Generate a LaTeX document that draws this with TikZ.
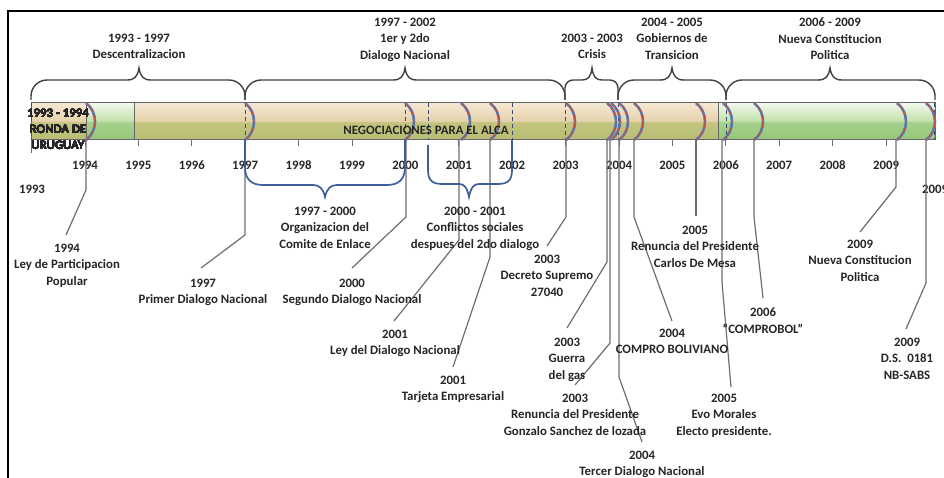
\documentclass[tikz,border=0pt]{standalone}
\usepackage{fontspec}
\setmainfont{Carlito}
\definecolor{txt}{HTML}{262626}
\definecolor{evcol}{HTML}{6E6E6E}
\definecolor{brk}{HTML}{404040}
\definecolor{bluebr}{HTML}{3F5E9C}
\definecolor{arcred}{HTML}{C0504D}
\definecolor{arcblue}{HTML}{4F81BD}
\definecolor{dashcol}{HTML}{3A4A70}
\definecolor{tanT}{HTML}{F5E8D2}
\definecolor{tanM}{HTML}{E6D2AC}
\definecolor{tanL}{HTML}{C3C47F}
\definecolor{tanB}{HTML}{B8BE74}
\definecolor{grT}{HTML}{F1F8EC}
\definecolor{grM}{HTML}{C2E2AC}
\definecolor{grL}{HTML}{A5D18C}
\definecolor{grB}{HTML}{94C77A}
\definecolor{orangeln}{HTML}{E39A50}
\pgfdeclareverticalshading{tanbar}{100bp}{color(0bp)=(tanB); color(25bp)=(tanB); color(49bp)=(tanL); color(51bp)=(tanM); color(75bp)=(tanT); color(100bp)=(tanT)}
\pgfdeclareverticalshading{greenbar}{100bp}{color(0bp)=(grB); color(25bp)=(grB); color(49bp)=(grL); color(51bp)=(grM); color(75bp)=(grT); color(100bp)=(grT)}
\tikzset{
  lbl/.style={font=\fontsize{12.8}{16.3}\selectfont\bfseries, text=txt, align=center, inner sep=0pt},
  lbln/.style={lbl, anchor=north},
  evl/.style={draw=evcol, line width=1.2pt},
  topbr/.style={draw=brk, line width=1.4pt},
  bluebrace/.style={draw=bluebr, line width=1.7pt},
  dashln/.style={draw=dashcol, line width=1pt, dash pattern=on 4pt off 3pt},
  tickln/.style={draw=evcol, line width=1pt},
  divln/.style={draw=gray!80!black, line width=1pt}
}
\newcommand{\tbrace}[5]{%
  \draw[topbr] (#1,100) -- (#1,{80+#4}) .. controls (#1,{80+0.45*#4}) and ({#1+0.45*#4},80) .. ({#1+#4},80)
   -- ({#2-#5},80) .. controls ({#2-0.4*#5},80) and ({#2-0.12*#5},77) .. (#2,68)
   .. controls ({#2+0.12*#5},77) and ({#2+0.4*#5},80) .. ({#2+#5},80)
   -- ({#3-#4},80) .. controls ({#3-0.45*#4},80) and (#3,{80+0.45*#4}) .. (#3,{80+#4}) -- (#3,100);}
\newcommand{\evarc}[1]{%
  \draw[arcblue, line width=2.6pt] (#1,103) .. controls ({#1+12},112) and ({#1+12},131) .. (#1,140);
  \draw[arcred, line width=1.1pt] (#1,103) .. controls ({#1+12},112) and ({#1+12},131) .. (#1,140);}
\newcommand{\evline}[6]{%
  \coordinate (#1a) at (#2,140);
  \coordinate (#1b) at (#2,#3);
  \coordinate (#1c) at (#4,#5);
  \draw[evl] (#1a) -- (#1b) -- (#1c);}
\begin{document}
\begin{tikzpicture}[x=1pt,y=-1pt]
\useasboundingbox (0,0) rectangle (944,478);
\fill[white] (0,0) rectangle (944,478);
% frame
\draw[black, line width=2pt] (944,11) -- (8,11) -- (8,478);

% band
\shade[shading=tanbar] (31,103) rectangle (86,140);
\shade[shading=greenbar] (86,103) rectangle (134,140);
\shade[shading=tanbar] (134,103) rectangle (718,140);
\shade[shading=greenbar] (718,103) rectangle (935,140);
\draw[orangeln, line width=1pt] (31,139.5) -- (718,139.5);
\draw[divln] (31,103) rectangle (935,140);
\foreach \x in {86,134,718} \draw[divln] (\x,103) -- (\x,140);
\foreach \x in {31,245,405,428,512,565,618,726,934} \draw[dashln] (\x,103) -- (\x,140);
\foreach \x in {86,245,405,461,490,566,607,611,619,634,696,723,754,897,926} \evarc{\x}
\node[lbl] (ronda) at (58,129.5) {1993 - 1994\\RONDA DE\\URUGUAY};
\node[lbl] (alca) at (426,130) {NEGOCIACIONES PARA EL ALCA};

% ticks and years
\draw[tickln] (31,140) -- (31,153);
\foreach \i in {0,...,15} {
  \draw[tickln] ({85+53.4*\i},140) -- ({85+53.4*\i},146);
  \pgfmathtruncatemacro\yy{1994+\i}
  \node[lbl] (yr\i) at ({85+53.4*\i},165) {\yy};
}
\node[lbl] (yr1993) at (32,189) {1993};
\node[lbl] (yr2009b) at (935,189) {2009};

% top braces
\tbrace{31}{139}{245}{16}{12}
\tbrace{245}{405}{565}{16}{12}
\tbrace{565}{592}{618}{8}{10}
\tbrace{618}{672}{726}{16}{12}
\tbrace{726}{830}{935}{16}{12}
\node[lbln] (t1) at (139,34) {1993 - 1997\\Descentralizacion};
\node[lbln] (t2) at (405,18) {1997 - 2002\\1er y 2do\\Dialogo Nacional};
\node[lbln] (t3) at (592,34) {2003 - 2003\\Crisis};
\node[lbln] (t4) at (672,18) {2004 - 2005\\Gobiernos de\\Transicion};
\node[lbln] (t5) at (830,18) {2006 - 2009\\Nueva Constitucion\\Politica};

% event lines
\evline{e1}{86}{190}{66}{235}{}
\evline{e2}{245}{235}{201}{268}{}
\evline{e3}{406}{217}{352}{268}{}
\evline{e4}{459}{240}{394}{321}{}
\evline{e5}{490}{257}{453}{367}{}
\evline{e6}{566}{217}{547}{246}{}
\evline{e7}{607}{262}{567}{328}{}
\evline{e8}{610}{343}{575}{385}{}
\evline{e9}{619}{377}{642}{442}{}
\evline{e10}{634}{217}{672}{321}{}
\evline{e11}{696}{216}{696}{216}{}
\evline{e12}{722}{282}{731}{387}{}
\evline{e13}{754}{217}{763}{298}{}
\evline{e14}{896}{187}{860}{232}{}
\evline{e15}{926}{283}{906}{329}{}

% blue braces
\coordinate (ba1) at (245,140); \coordinate (ba2) at (405,140);
\draw[bluebrace] (ba1) -- (245,167) .. controls (245,179) and (251,185) .. (263,185) -- (313,185)
  .. controls (319,185) and (323,188) .. (325,197) .. controls (327,188) and (331,185) .. (337,185)
  -- (387,185) .. controls (399,185) and (405,179) .. (405,167) -- (ba2);
\coordinate (bb1) at (428,145); \coordinate (bb2) at (512,140);
\draw[bluebrace] (bb1) -- (428,170) .. controls (428,180) and (432,184) .. (442,184) -- (459,184)
  .. controls (464,184) and (467,187) .. (469,197) .. controls (471,187) and (474,184) .. (479,184)
  -- (498,184) .. controls (508,184) and (512,180) .. (512,170) -- (bb2);
\node[lbln] (b1) at (325,207) {1997 - 2000\\Organizacion del\\Comite de Enlace};
\node[lbln] (b2) at (475,207) {2000 - 2001\\Conflictos sociales\\despues del 2do dialogo};

% event labels
\node[lbln] (L1) at (67,244) {1994\\Ley de Participacion\\Popular};
\node[lbln] (L2) at (203,279) {1997\\Primer Dialogo Nacional};
\node[lbln] (L3) at (352,279) {2000\\Segundo Dialogo Nacional};
\node[lbln] (L4) at (395,330) {2001\\Ley del Dialogo Nacional};
\node[lbln] (L5) at (453,376) {2001\\Tarjeta Empresarial};
\node[lbln] (L6) at (547,255) {2003\\Decreto Supremo\\27040};
\node[lbln] (L7) at (567,338) {2003\\Guerra\\del gas};
\node[lbln] (L8) at (575,394) {2003\\Renuncia del Presidente\\Gonzalo Sanchez de lozada};
\node[lbln] (L9) at (642,451) {2004\\Tercer Dialogo Nacional};
\node[lbln] (L10) at (672,329) {2004\\COMPRO BOLIVIANO};
\node[lbln] (L11) at (695,226) {2005\\Renuncia del Presidente\\Carlos De Mesa};
\node[lbln] (L12) at (724,394) {2005\\Evo Morales\\Electo presidente.};
\node[lbln] (L13) at (763,308) {2006\\“COMPROBOL”};
\node[lbln] (L14) at (860,240) {2009\\Nueva Constitucion\\Politica};
\node[lbln] (L15) at (907,338) {2009\\D.S.\ \ 0181\\NB-SABS};
\end{tikzpicture}
\end{document}
